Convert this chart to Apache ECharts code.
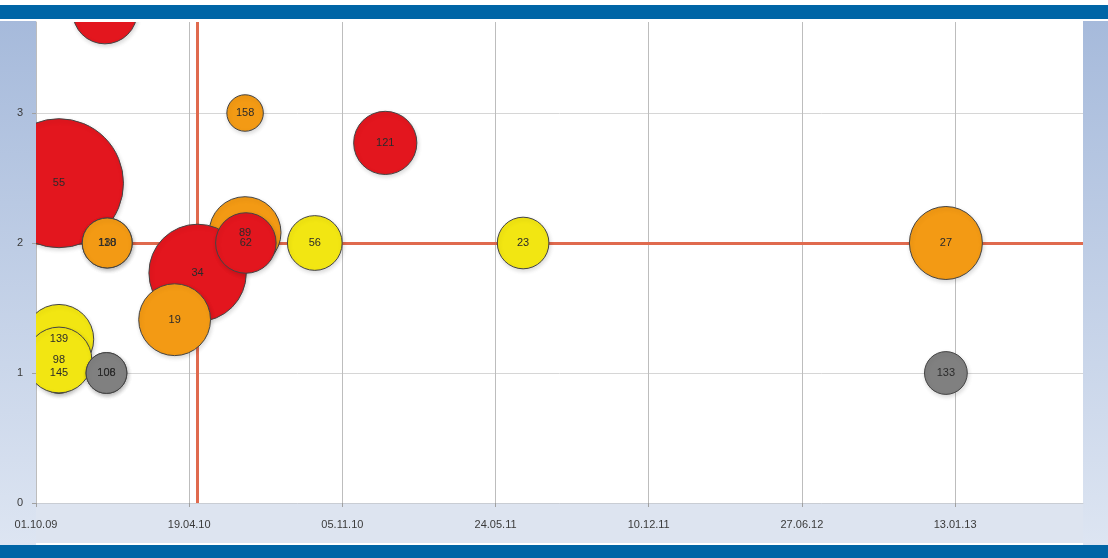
<!DOCTYPE html>
<html>
<head>
<meta charset="utf-8">
<script src="https://cdn.jsdelivr.net/npm/echarts/dist/echarts.min.js"></script>
<style>
html,body{margin:0;padding:0;background:#fff;}
#wrap{position:relative;width:1108px;height:558px;overflow:hidden;background:#fff;}
.bg{position:absolute;}
#chart{position:absolute;left:0;top:0;width:1108px;height:558px;}
</style>
</head>
<body>
<div id="wrap">
  <div class="bg" style="left:0;top:5px;width:1108px;height:14px;background:#0065A6"></div>
  <div class="bg" style="left:0;top:21px;width:36px;height:524px;background:linear-gradient(#A6BADB,#DDE5F2)"></div>
  <div class="bg" style="left:1083px;top:21px;width:25px;height:524px;background:linear-gradient(#A6BADB,#DDE5F2)"></div>
  <div class="bg" style="left:36px;top:503px;width:1047px;height:40px;background:#DDE4F0"></div>
  <div class="bg" style="left:0;top:545px;width:1108px;height:13px;background:#0065A6"></div>
  <div id="chart"></div>
</div>
<script>
// ---- data ----
const startDate = '2009-10-01';
const endDate = '2013-06-29';
const tickDays = 200;
const yTicks = [0, 1, 2, 3];
const yMax = 3.7;
const thresholdDate = '2010-04-29';
const thresholdY = 2;

const labels = ['', '55', '110', '138', '158', '89', '34', '62', '56', '139', '145', '98', '106', '108', '19', '121', '23', '27', '133'];
const dates  = ['2009-12-30', '2009-10-31', '2010-01-02', '2010-01-02', '2010-07-01', '2010-07-01', '2010-04-30', '2010-07-02', '2010-09-30',
                '2009-10-31', '2009-10-31', '2009-10-31', '2010-01-01', '2010-01-01', '2010-03-31', '2010-12-31', '2011-06-29', '2013-01-01', '2013-01-01'];
const yValues = [3.78, 2.46, 2, 2, 3, 2.08, 1.77, 2, 2, 1.26, 1.0, 1.10, 1, 1, 1.41, 2.77, 2, 2, 1];
const sizes   = [25, 100, 15, 15, 8, 31, 57, 22, 18, 29, 10, 26, 10, 10, 31, 24, 16, 32, 11];
const levels  = ['red', 'red', 'orange', 'orange', 'orange', 'orange', 'red', 'red', 'yellow',
                 'yellow', 'yellow', 'yellow', 'grey', 'grey', 'orange', 'red', 'yellow', 'orange', 'grey'];

// ---- helpers ----
const levelColors = {red: '#E3161E', orange: '#F39A14', yellow: '#F2E612', grey: '#808080'};
function toUTC(s){ const p = s.split('-').map(Number); return Date.UTC(p[0], p[1]-1, p[2]); }
const DAY = 86400000;
const t0 = toUTC(startDate);
function dayNum(s){ return Math.round((toUTC(s) - t0) / DAY); }
function fmtDay(v){
  const d = new Date(t0 + v * DAY);
  const pad = n => (n < 10 ? '0' : '') + n;
  return pad(d.getUTCDate()) + '.' + pad(d.getUTCMonth() + 1) + '.' + pad(d.getUTCFullYear() % 100);
}
const bubbleData = dates.map((d, i) => [dayNum(d), yValues[i], sizes[i]]);
const R_UNIT = 6.45; // radius per sqrt(size unit)
const FONT = '11px "Liberation Sans", Arial, sans-serif';

const chart = echarts.init(document.getElementById('chart'), null, {renderer: 'canvas'});
chart.setOption({
  animation: false,
  backgroundColor: 'transparent',
  grid: {left: 36, right: 25, top: 22, bottom: 55, show: true, backgroundColor: '#ffffff', borderWidth: 0},
  xAxis: {
    type: 'value', min: 0, max: dayNum(endDate), interval: tickDays,
    axisLine: {show: true, lineStyle: {color: '#C9CDD4', width: 1}},
    axisTick: {show: true, length: 4, lineStyle: {color: '#A0A0A0'}},
    axisLabel: {formatter: fmtDay, fontSize: 11, fontFamily: 'Liberation Sans', color: '#3a3a3a', margin: 16, showMaxLabel: false, hideOverlap: false},
    splitLine: {show: true, showMinLine: false, showMaxLine: false, lineStyle: {color: '#BDBDBD', width: 1}}
  },
  yAxis: {
    type: 'value', min: yTicks[0], max: yMax, interval: 1,
    axisLine: {show: true, lineStyle: {color: '#BDBDBD', width: 1}},
    axisTick: {show: true, length: 4, lineStyle: {color: '#A0A0A0'}},
    axisLabel: {fontSize: 11, fontFamily: 'Liberation Sans', color: '#3a3a3a', margin: 13, showMaxLabel: false,
                formatter: v => (yTicks.indexOf(v) >= 0 ? String(v) : '')},
    splitLine: {show: true, showMinLine: false, showMaxLine: false, lineStyle: {color: '#D6D6D6', width: 1}}
  },
  series: [
    {
      type: 'line', data: [], z: 1, silent: true,
      markLine: {
        z: 1, silent: true, symbol: 'none', animation: false,
        label: {show: false},
        lineStyle: {color: '#E06A4E', width: 3, type: 'solid'},
        data: [{xAxis: dayNum(thresholdDate)}, {yAxis: thresholdY}]
      }
    },
    {
      type: 'custom', z: 10, clip: true, silent: true,
      encode: {x: 0, y: 1},
      data: bubbleData,
      renderItem: function (params, api) {
        const c = api.coord([api.value(0), api.value(1)]);
        const r = R_UNIT * Math.sqrt(api.value(2));
        const i = params.dataIndex;
        return {
          type: 'group',
          children: [
            {type: 'circle', shape: {cx: c[0], cy: c[1], r: r},
             style: {fill: levelColors[levels[i]], stroke: '#444444', lineWidth: 1,
                     shadowBlur: 4, shadowColor: 'rgba(0,0,0,0.15)', shadowOffsetX: 1, shadowOffsetY: 2}},
            {type: 'text', z2: 100, x: c[0], y: c[1],
             style: {text: labels[i], fill: '#2b2b2b', font: FONT,
                     align: 'center', verticalAlign: 'middle', textAlign: 'center', textVerticalAlign: 'middle'}}
          ]
        };
      }
    }
  ]
});
</script>
</body>
</html>
